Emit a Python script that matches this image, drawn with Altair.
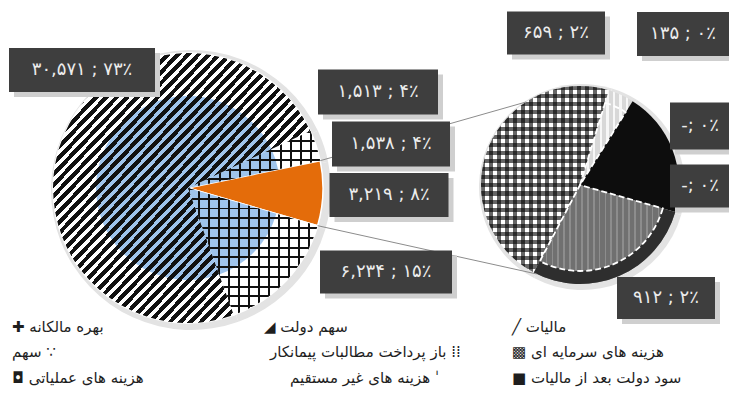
import math
import altair as alt
import pandas as pd

W, H = 729, 398

# ---------------- data ----------------
main_keys = ["hatch_small", "other", "hatch", "stripes"]
main_values = [1538, 3219, 6234, 30571]

sub_keys = ["light", "black", "zero_a", "zero_b", "gray", "checker"]
sub_values = [135, 659, 0, 0, 912, 1513]

label_texts = ["۳۰,۵۷۱ ; ۷۳٪", "۱,۵۱۳ ; ۴٪", "۱,۵۳۸ ; ۴٪", "۳,۲۱۹ ; ۸٪", "۶,۲۳۴ ; ۱۵٪",
               "۶۵۹ ; ۲٪", "۱۳۵ ; ۰٪", "-; ۰٪", "-; ۰٪", "۹۱۲ ; ۲٪"]

legend_names = ["بهره مالکانه", "سهم", "هزینه های عملیاتی",
                "سهم دولت", "باز پرداخت مطالبات پیمانکار", "هزینه های غیر مستقیم",
                "مالیات", "هزینه های سرمایه ای", "سود دولت بعد از مالیات"]

# ---------------- layout / style (kept apart from the data) ----------------
MAIN_CX, MAIN_CY, MAIN_R, MAIN_START = 188, 188, 135, 65
BLUE_R = 92
SUB_CX, SUB_CY, SUB_R, SUB_START = 580, 185, 99, 17
SUB_TOUCH = [327, 206]          # where the connector lines meet the small pie (deg)

label_boxes = [(82, 70, 146, 44), (378, 92, 120, 45), (391, 144, 118, 45),
               (389, 195, 119, 44), (386, 272, 132, 43), (556, 33, 98, 43),
               (683, 34, 92, 44), (700, 126, 60, 47), (700, 186, 60, 43),
               (666, 298, 98, 42)]

legend_markers = ["✚", "∵", "◘", "◢", "⁞⁞", "ˈ", "╱", "▩", "■"]
legend_marker_left = [True, False, True, True, False, False, True, True, True]
legend_x = [12, 12, 12, 264, 270, 290, 512, 512, 512]
legend_y = [327, 352, 378, 327, 352, 378, 327, 352, 378]

slice_colors = {"hatch_small": "#ffffff", "other": "#e46c0a", "hatch": "#ffffff", "stripes": "#ffffff",
                "light": "#d8d8d8", "black": "#0d0d0d", "zero_a": "#1a1a1a", "zero_b": "#1a1a1a",
                "gray": "#707070", "checker": "#ffffff"}

FONT = "DejaVu Sans"


def angles(values, start_deg):
    tot = float(sum(values))
    a = math.radians(start_deg)
    out = []
    for v in values:
        b = a + 2 * math.pi * v / tot
        out.append((a, b))
        a = b
    return out


main_df = pd.DataFrame({"key": main_keys, "value": main_values})
ma = angles(main_values, MAIN_START)
main_df["a0"] = [p[0] for p in ma]
main_df["a1"] = [p[1] for p in ma]

sub_df = pd.DataFrame({"key": sub_keys, "value": sub_values})
sa = angles(sub_values, SUB_START)
sub_df["a0"] = [p[0] for p in sa]
sub_df["a1"] = [p[1] for p in sa]


def pt(cx, cy, r, a):
    return cx + r * math.sin(a), cy - r * math.cos(a)


oth = main_df[main_df.key == "other"].iloc[0]
p_top = pt(MAIN_CX, MAIN_CY, MAIN_R, oth.a0)
p_bot = pt(MAIN_CX, MAIN_CY, MAIN_R, oth.a1)
q_top = pt(SUB_CX, SUB_CY, SUB_R, math.radians(SUB_TOUCH[0]))
q_bot = pt(SUB_CX, SUB_CY, SUB_R, math.radians(SUB_TOUCH[1]))
conn_df = pd.DataFrame({"x": [p_top[0], p_bot[0]], "y": [p_top[1], p_bot[1]],
                        "x2": [q_top[0], q_bot[0]], "y2": [q_top[1], q_bot[1]]})

lab_df = pd.DataFrame({
    "text": label_texts,
    "cx": [b[0] for b in label_boxes], "cy": [b[1] for b in label_boxes],
    "w": [b[2] for b in label_boxes], "h": [b[3] for b in label_boxes]})
lab_df["x0"] = lab_df.cx - lab_df.w / 2
lab_df["x1"] = lab_df.cx + lab_df.w / 2
lab_df["y0"] = lab_df.cy - lab_df.h / 2
lab_df["y1"] = lab_df.cy + lab_df.h / 2
shadow_df = lab_df.copy()
for c in ["x0", "x1"]:
    shadow_df[c] = shadow_df[c] + 5
for c in ["y0", "y1"]:
    shadow_df[c] = shadow_df[c] + 5

# SVG text runs left-to-right: a leading marker is drawn at the left of the
# Persian words, a trailing one at their right
leg_text = []
for name, mk, left in zip(legend_names, legend_markers, legend_marker_left):
    leg_text.append(mk + " " + name if left else name + " " + mk)
leg_df = pd.DataFrame({"text": leg_text, "x": legend_x, "y": legend_y})

XS = alt.Scale(domain=[0, W], range=[0, W], nice=False, zero=False)
YS = alt.Scale(domain=[0, H], range=[0, H], nice=False, zero=False)
FILL = alt.Scale(domain=list(slice_colors.keys()), range=list(slice_colors.values()))


def stripes(n, frac, color, x2, y2):
    stops = []
    clear = "rgba(0,0,0,0)"
    for i in range(n):
        o0, o1, o2 = i / n, (i + frac) / n, (i + 1) / n
        stops += [alt.GradientStop(offset=o0, color=color),
                  alt.GradientStop(offset=o1, color=color),
                  alt.GradientStop(offset=o1, color=clear),
                  alt.GradientStop(offset=o2, color=clear)]
    return alt.LinearGradient(gradient="linear", stops=stops, x1=0, y1=0, x2=x2, y2=y2)


def arcs(df, cx, cy, keys=None, **mark):
    ch = alt.Chart(df)
    if keys is not None:
        ch = ch.transform_filter(alt.FieldOneOfPredicate(field="key", oneOf=keys))
    return ch.mark_arc(**mark).encode(
        theta=alt.Theta("a0:Q", scale=None, stack=None),
        theta2="a1:Q",
        x=alt.value(cx), y=alt.value(cy))


layers = []
# ---- main pie ----
layers.append(arcs(main_df, MAIN_CX + 3, MAIN_CY + 2, radius=MAIN_R + 5, fill="#e3e3e3"))
layers.append(arcs(main_df, MAIN_CX, MAIN_CY, radius=MAIN_R, stroke="white", strokeWidth=1.5).encode(
    fill=alt.Fill("key:N", legend=None, scale=FILL)))
layers.append(arcs(main_df, MAIN_CX, MAIN_CY, keys=["hatch_small", "hatch", "stripes"],
                   radius=BLUE_R, fill="#9fc4ec"))
layers.append(arcs(main_df, MAIN_CX, MAIN_CY, keys=["stripes"], radius=MAIN_R,
                   fill=stripes(50, 0.55, "#111111", 1, 1)))
layers.append(arcs(main_df, MAIN_CX, MAIN_CY, keys=["hatch"], radius=MAIN_R,
                   fill=stripes(13, 0.2, "#111111", 0, 1)))
layers.append(arcs(main_df, MAIN_CX, MAIN_CY, keys=["hatch"], radius=MAIN_R,
                   fill=stripes(13, 0.2, "#111111", 1, 0)))
layers.append(arcs(main_df, MAIN_CX, MAIN_CY, keys=["hatch_small"], radius=MAIN_R,
                   fill=stripes(6, 0.2, "#111111", 0, 1)))
layers.append(arcs(main_df, MAIN_CX, MAIN_CY, keys=["hatch_small"], radius=MAIN_R,
                   fill=stripes(13, 0.2, "#111111", 1, 0)))

# ---- small pie ----
layers.append(arcs(sub_df, SUB_CX + 2, SUB_CY + 2, radius=SUB_R + 4, fill="#e3e3e3"))
layers.append(arcs(sub_df, SUB_CX, SUB_CY, radius=SUB_R).encode(
    fill=alt.Fill("key:N", legend=None, scale=FILL)))
layers.append(arcs(sub_df, SUB_CX, SUB_CY, keys=["checker"], radius=SUB_R,
                   fill=stripes(23, 0.5, "rgba(0,0,0,0.6)", 0, 1)))
layers.append(arcs(sub_df, SUB_CX, SUB_CY, keys=["checker"], radius=SUB_R,
                   fill=stripes(16, 0.5, "rgba(0,0,0,0.6)", 1, 0)))
layers.append(arcs(sub_df, SUB_CX, SUB_CY, keys=["light"], radius=SUB_R,
                   fill=stripes(8, 0.35, "rgba(255,255,255,0.8)", 1, 0)))
layers.append(arcs(sub_df, SUB_CX, SUB_CY, keys=["gray"], radius=SUB_R,
                   fill=stripes(24, 0.3, "rgba(160,160,160,0.6)", 1, 0)))
layers.append(arcs(sub_df, SUB_CX, SUB_CY, keys=["gray"], radius=SUB_R, innerRadius=86, fill="#2e2e2e"))
layers.append(arcs(sub_df, SUB_CX, SUB_CY, keys=["gray", "light"], radius=86, fillOpacity=0,
                   stroke="white", strokeWidth=1.8, strokeDash=[6, 3]))

# ---- connector lines ----
layers.append(alt.Chart(conn_df).mark_rule(color="#8c8c8c", strokeWidth=1).encode(
    x=alt.X("x:Q", scale=XS, axis=None), y=alt.Y("y:Q", scale=YS, axis=None),
    x2="x2:Q", y2="y2:Q"))

# ---- data label boxes ----
layers.append(alt.Chart(shadow_df).mark_rect(color="#cfcfcf").encode(
    x=alt.X("x0:Q", scale=XS, axis=None), x2="x1:Q",
    y=alt.Y("y0:Q", scale=YS, axis=None), y2="y1:Q"))
layers.append(alt.Chart(lab_df).mark_rect(color="#3e3e3e").encode(
    x=alt.X("x0:Q", scale=XS, axis=None), x2="x1:Q",
    y=alt.Y("y0:Q", scale=YS, axis=None), y2="y1:Q"))
layers.append(alt.Chart(lab_df).mark_text(color="#ececec", font=FONT, fontSize=18,
                                          align="center", baseline="middle").encode(
    x=alt.X("cx:Q", scale=XS, axis=None), y=alt.Y("cy:Q", scale=YS, axis=None), text="text:N"))

# ---- legend ----
layers.append(alt.Chart(leg_df).mark_text(color="#1e1e1e", font=FONT, fontSize=15,
                                          align="left", baseline="middle").encode(
    x=alt.X("x:Q", scale=XS, axis=None), y=alt.Y("y:Q", scale=YS, axis=None), text="text:N"))

chart = alt.layer(*layers).properties(
    width=W, height=H, padding=0, autosize="none", background="white"
).configure_view(stroke=None)

chart.save("out.html", embed_options={"renderer": "svg", "actions": False})
